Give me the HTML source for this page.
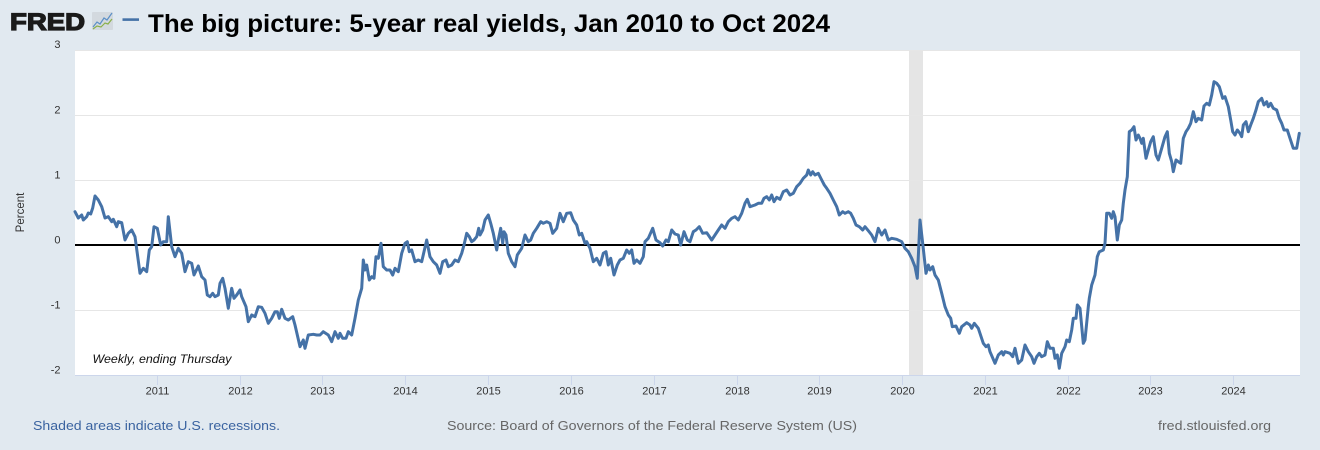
<!DOCTYPE html>
<html><head><meta charset="utf-8"><style>
html,body{margin:0;padding:0;background:#e1e9f0;}
svg{display:block;}
</style></head><body>
<svg width="1320" height="450" viewBox="0 0 1320 450" xmlns="http://www.w3.org/2000/svg">
<rect x="0" y="0" width="1320" height="450" fill="#e1e9f0"/>
<!-- header -->
<text x="10" y="29.8" font-family="Liberation Sans, Arial, sans-serif" font-weight="bold" font-size="24" fill="#1a1a1a" stroke="#1a1a1a" stroke-width="1.3" textLength="75" lengthAdjust="spacingAndGlyphs">FRED</text>
<rect x="92" y="12" width="21" height="18" fill="#d3d9df" rx="1"/>
<polyline points="93,27 97,22 100,24 104,18 107,20 112,13" fill="none" stroke="#5b8fc7" stroke-width="1.2"/>
<polyline points="93,29 97,26 101,27 105,23 108,24 112,19" fill="none" stroke="#8ab04a" stroke-width="1.2"/>
<rect x="122.5" y="18.3" width="16.5" height="2.6" fill="#4572a7"/>
<text x="148" y="32" font-family="Liberation Sans, Arial, sans-serif" font-weight="bold" font-size="25" fill="#000" textLength="682" lengthAdjust="spacingAndGlyphs">The big picture: 5-year real yields, Jan 2010 to Oct 2024</text>
<!-- plot area -->
<rect x="75" y="50" width="1225" height="325" fill="#ffffff"/>
<rect x="909" y="50" width="14" height="325" fill="#e5e5e5"/>
<g stroke="#e6e6e6" stroke-width="1">
<line x1="75" y1="50.5" x2="1300" y2="50.5"/>
<line x1="75" y1="115.5" x2="1300" y2="115.5"/>
<line x1="75" y1="180.5" x2="1300" y2="180.5"/>
<line x1="75" y1="310.5" x2="1300" y2="310.5"/>
</g>
<line x1="75" y1="375.5" x2="1300" y2="375.5" stroke="#ccd6eb" stroke-width="1"/>
<g stroke="#ccd6eb" stroke-width="1">
<line x1="157.5" y1="375" x2="157.5" y2="385"/>
<line x1="240.5" y1="375" x2="240.5" y2="385"/>
<line x1="322.5" y1="375" x2="322.5" y2="385"/>
<line x1="405.5" y1="375" x2="405.5" y2="385"/>
<line x1="488.5" y1="375" x2="488.5" y2="385"/>
<line x1="571.5" y1="375" x2="571.5" y2="385"/>
<line x1="654.5" y1="375" x2="654.5" y2="385"/>
<line x1="737.5" y1="375" x2="737.5" y2="385"/>
<line x1="819.5" y1="375" x2="819.5" y2="385"/>
<line x1="902.5" y1="375" x2="902.5" y2="385"/>
<line x1="985.5" y1="375" x2="985.5" y2="385"/>
<line x1="1068.5" y1="375" x2="1068.5" y2="385"/>
<line x1="1150.5" y1="375" x2="1150.5" y2="385"/>
<line x1="1233.5" y1="375" x2="1233.5" y2="385"/>
</g>
<line x1="75" y1="245" x2="1300" y2="245" stroke="#000" stroke-width="2"/>
<polyline fill="none" stroke="#4572a7" stroke-width="3" stroke-linejoin="round" stroke-linecap="round" points="75,211.7 78.3,218 81.7,215 83.3,220 86.7,216.7 88.3,213 90.7,214 92.7,208 95,196 98.3,200 101.7,206.7 105,218 108.3,216.7 111.7,221.7 113.3,219.3 116.7,226.7 118.3,221.7 121.7,222.7 125,240 128.3,233.3 131.7,230 135,236.7 140,273.3 143.3,268.3 146.7,271.7 149.3,250 151.7,246.7 154,226.7 157.3,228.3 160.7,245 163.3,241.7 166.7,241.7 168.3,216.7 171.7,246.7 175,256.7 178.3,248.3 181.7,253.3 185,271.7 188.3,261.7 191.7,263.3 194,275 198.3,266 201.7,276.7 205,280 207.3,295 210,296.7 212.7,293.3 215,296.7 218.3,295 220,283.3 222.7,278.3 225,288.3 228.3,308.3 231.7,288.3 234,298.3 236.7,295 240,290 241.7,296.7 246,306.7 248.3,321.7 251.7,315 255,316.7 258.3,306.7 261.7,307.3 265,313.3 268.3,323.3 271.7,318.3 275,311.7 277.3,311.7 279.3,318.3 281.7,309.3 285,318.3 288.3,320 292.7,316.7 295,325 300,346.7 303.3,340 305,348.3 308.3,335 313.3,334.3 316.7,335 320,335 323.3,331.7 328.3,335 331.7,341.7 335,331.7 338.3,338.3 340,333.3 342.7,338.3 346,338.3 348.3,331.7 351.7,335 355,318.3 358.3,300 361.7,288.3 363.3,260 365,270 366.7,265 369.3,280 371.7,276.7 374,278.3 376,256.7 378.3,258.3 381,243.3 383.3,266.7 386.7,270 390,270 392.7,275 395,268.3 398.3,271.7 401.7,253.3 405,243.3 407.3,241.7 409.3,251.7 411.7,250 415,261.7 418.3,260 421.7,261.7 426.7,240 430,256.7 433.3,261.7 436.7,265 440,273.3 442.7,261.7 446,260 448.3,266.7 451.7,265 455,260 458.3,261.7 461.7,253.3 464,245 466.7,233.3 469.3,236.7 471.7,241.7 474,240 476.7,236.7 478.7,228.3 480,235 482.7,230 485,220 488.3,215 490.7,223.3 493.3,233.3 496.7,250 498.3,240 500.7,228.3 502.7,243.3 504,231.7 506,235 508.3,253.3 511.7,261.7 515,266.7 517.3,255 521.7,248.3 525,235 528.3,241.7 530.7,240 533.3,233.3 536.7,228.3 540.7,221.7 543.3,223.3 546.7,221.7 550,223.3 552.7,233.3 556.7,228.3 560,213.3 563.3,221.7 566.7,213.3 570.7,212.7 573.3,220 576.7,225 579.3,235 581.7,233.3 585,243.3 586.7,241.7 590,248.3 593.3,261.7 596.7,258.3 600,265 603.3,253.3 606,251.7 608.3,265 610.7,258.3 614,275 617.3,265 620,260 623.3,258.3 626.7,250 629.3,253.3 631.7,250 634,263.3 636.7,260 640,263.3 643.3,256.7 645,241.7 648.3,238.3 652.7,228.3 656,240 660,242.7 662.7,246 666,240 668.3,241.7 671.7,230 675,234 678.3,235 680.7,245 684,231.7 687.3,240 690,241.7 693.3,231.7 696,230 699.3,226.7 702.7,233.3 706.7,232.7 711.7,240 715,235 718.3,230 721.7,225 725,228.3 728.3,221.7 731.7,218.3 735,216.7 738.3,220 741.7,213.3 745,203.3 747.3,199.3 750,206.7 755,205 758.3,203.3 761.7,203.3 764,198.3 766.7,196.7 769.3,200 771.7,195 774,201.7 776.7,197.3 780,199.3 783.3,191.7 786.7,190 790,195 793.3,193.3 796.7,186.7 800,183.3 803.3,178.3 806.7,175 808.3,170 810.7,175 812.7,171.7 815,175 818.3,173.3 821.7,180 824.3,185 826.7,188.3 830,193.3 833.3,200 836.7,206.7 839.3,215 842.7,211.7 845,213.3 848.3,211.7 850.7,213.3 853.3,218.3 856,225 859.3,226.7 862.7,230 865,226.7 868.3,230.7 871.7,235 875,241.7 878.3,228.3 881.7,235 885,230 888.3,240 891.7,238.3 896.7,239.3 901.7,241.7 905,248.3 908.3,251.7 911.7,258.3 915,266.7 917.3,278.3 920,220 922.7,243.3 926,273.3 928.3,265 930,270 932.7,266.7 935,275 938.3,280 941.7,293.3 945,306.7 948.3,315 950.7,318.3 952.3,326.7 956,326 959.3,333.3 961.7,326.7 966.7,322.7 970,325 971.7,328.3 974.3,323.3 978.3,328.3 983.3,343.3 986,346.7 988.3,345 990,351.7 995,363.3 998.3,355 1001.7,351.7 1003.3,355 1005,351.7 1010,353.3 1012.7,356.7 1015,348.3 1018.3,363.3 1021.7,360 1025,345 1028.3,351.7 1031.7,356.7 1034,363.3 1036.7,356.7 1039.3,353.3 1041.7,356.7 1045,355 1047.3,341.7 1050,348.3 1053.3,348.3 1055,358.3 1057.3,355 1059.3,368.3 1061.7,353.3 1065,346.7 1066.7,340 1069.3,341.7 1071.7,330 1073.3,318.3 1076,318.3 1077.3,305 1080,308.3 1083.3,343.3 1085,340 1088.3,306.7 1089.3,298.3 1091.7,285 1095,275 1097.3,256.7 1099.3,251.7 1103.3,250 1105,243.3 1106.7,213.3 1109.3,213.3 1111.7,218.3 1113.3,211.7 1115,216.7 1117.3,240 1119.3,225 1121.7,220 1123.3,203.3 1125,190 1127.3,176.7 1129.3,131.7 1131.7,130 1134,126.7 1136,140 1138.3,135 1140,138.3 1141.7,143.3 1143.3,138.3 1146,158.3 1148.3,150 1150.7,141.7 1153.3,136.7 1156,155 1158.3,160 1161.7,148.3 1165,136.7 1167.3,131.7 1169.3,153.3 1171.7,161.7 1173.3,171.7 1176,160 1178.3,161.7 1180.7,163.3 1183.3,138.3 1186,131.7 1188.3,128.3 1190.7,123.3 1193.3,111.7 1196,121.7 1198.3,118.3 1201.7,120 1204,106 1206.7,103.3 1209.3,105 1211.7,95 1214,81.7 1216.7,83.3 1219.3,86.7 1222.7,98.3 1225,96.7 1228.3,106.7 1230.7,120 1232.7,131.7 1235,135 1237.3,130 1240,133.3 1241.7,136.7 1243.3,125 1246,121.7 1248.3,131.7 1250.7,125 1253.3,118.3 1256,110 1258.3,101.7 1261.7,98.3 1264,105 1266.7,101.7 1268.3,106.7 1270.7,103.3 1273.3,108.3 1276.7,110 1279.3,118.3 1281.7,123.3 1284,130 1287.3,130 1290,138.3 1293.3,148.3 1296.7,148.3 1299.3,133.3"/>
<text x="92.5" y="363" font-family="Liberation Sans, Arial, sans-serif" font-style="italic" font-size="12" fill="#111" textLength="139" lengthAdjust="spacingAndGlyphs">Weekly, ending Thursday</text>
<!-- y axis labels -->
<g font-family="Liberation Sans, Arial, sans-serif" font-size="11" fill="#333" text-anchor="end">
<text x="60.5" y="48">3</text>
<text x="60.5" y="113.5">2</text>
<text x="60.5" y="178.5">1</text>
<text x="60.5" y="243.5">0</text>
<text x="60.5" y="308.5">-1</text>
<text x="60.5" y="373.5">-2</text>
</g>
<text transform="translate(24,212.5) rotate(-90)" font-family="Liberation Sans, Arial, sans-serif" font-size="11.5" fill="#333" text-anchor="middle">Percent</text>
<!-- x axis labels -->
<g font-family="Liberation Sans, Arial, sans-serif" font-size="11" fill="#333" text-anchor="middle">
<text x="157.5" y="394.5">2011</text>
<text x="240.5" y="394.5">2012</text>
<text x="322.5" y="394.5">2013</text>
<text x="405.5" y="394.5">2014</text>
<text x="488.5" y="394.5">2015</text>
<text x="571.5" y="394.5">2016</text>
<text x="654.5" y="394.5">2017</text>
<text x="737.5" y="394.5">2018</text>
<text x="819.5" y="394.5">2019</text>
<text x="902.5" y="394.5">2020</text>
<text x="985.5" y="394.5">2021</text>
<text x="1068.5" y="394.5">2022</text>
<text x="1150.5" y="394.5">2023</text>
<text x="1233.5" y="394.5">2024</text>
</g>
<!-- footer -->
<g font-family="Liberation Sans, Arial, sans-serif" font-size="13">
<text x="33" y="430" fill="#3a63a0" textLength="247" lengthAdjust="spacingAndGlyphs">Shaded areas indicate U.S. recessions.</text>
<text x="447" y="430" fill="#666" textLength="410" lengthAdjust="spacingAndGlyphs">Source: Board of Governors of the Federal Reserve System (US)</text>
<text x="1158" y="430" fill="#666" textLength="113" lengthAdjust="spacingAndGlyphs">fred.stlouisfed.org</text>
</g>
</svg>
</body></html>
